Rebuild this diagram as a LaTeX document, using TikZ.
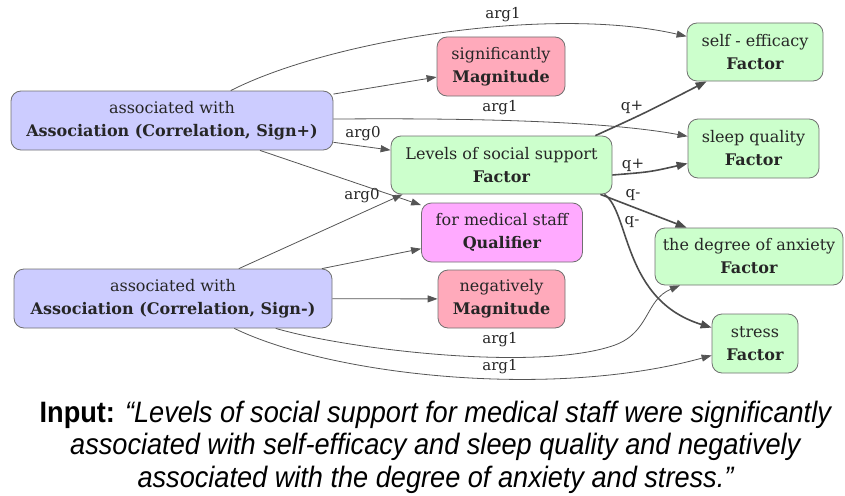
\documentclass[tikz,border=0pt]{standalone}
\usepackage{fontspec}
\setmainfont{DejaVu Serif}
\newfontfamily\capfont[FakeStretch=0.92]{Liberation Sans}
\usetikzlibrary{arrows.meta}
\definecolor{assocfill}{HTML}{CCCCFF}
\definecolor{magfill}{HTML}{FFAABB}
\definecolor{qualfill}{HTML}{FFAAFF}
\definecolor{factfill}{HTML}{CCFFCC}
\definecolor{edgegray}{HTML}{555555}
\definecolor{bordergray}{HTML}{707070}
\tikzset{
  box/.style={draw=bordergray, line width=0.8pt, rounded corners=10pt, align=center, inner sep=0pt,
    font=\fontsize{16}{23}\selectfont, text=black!85},
  assoc/.style={box, fill=assocfill},
  mag/.style={box, fill=magfill},
  qual/.style={box, fill=qualfill},
  fact/.style={box, fill=factfill},
  edge/.style={draw=edgegray, line width=0.8pt, -{Triangle[length=10pt,width=7pt]}},
  thick edge/.style={draw=edgegray!90!black, line width=1.6pt, -{Triangle[length=11pt,width=8pt]}},
  lbl/.style={font=\fontsize{15}{17}\selectfont, text=black!85, inner sep=0pt}
}
\begin{document}
\begin{tikzpicture}[x=1pt,y=-1pt]
\useasboundingbox (0,0) rectangle (845,495);
% nodes
\node[assoc, minimum width=322pt, minimum height=59pt] (ap) at (172,120.5)
  {associated with\\\textbf{Association (Correlation, Sign+)}};
\node[assoc, minimum width=318pt, minimum height=59pt] (am) at (173,298.5)
  {associated with\\\textbf{Association (Correlation, Sign-)}};
\node[mag, minimum width=128pt, minimum height=59pt] (sig) at (501,66.5)
  {significantly\\\textbf{Magnitude}};
\node[fact, minimum width=221pt, minimum height=58pt] (lv) at (501.5,165)
  {Levels of social support\\\textbf{Factor}};
\node[qual, minimum width=161pt, minimum height=59pt] (ql) at (502,232.5)
  {for medical staff\\\textbf{Qualifier}};
\node[mag, minimum width=127pt, minimum height=58pt] (neg) at (501.5,299)
  {negatively\\\textbf{Magnitude}};
\node[fact, minimum width=136pt, minimum height=58pt] (se) at (755,52)
  {self - efficacy\\\textbf{Factor}};
\node[fact, minimum width=131pt, minimum height=59pt] (sq) at (753.5,148.5)
  {sleep quality\\\textbf{Factor}};
\node[fact, minimum width=188pt, minimum height=57pt] (an) at (749,256.5)
  {the degree of anxiety\\\textbf{Factor}};
\node[fact, minimum width=86pt, minimum height=59pt] (st) at (755,343.5)
  {stress\\\textbf{Factor}};
% edges from Assoc+
\draw[edge] (ap) .. controls (330,40) and (550,5) .. (se);
\draw[edge] (ap) -- (sig);
\draw[edge] (ap) .. controls (450,118) and (600,120) .. (sq);
\draw[edge] (ap) -- (lv);
\draw[edge] (ap) -- (ql);
% edges from Assoc-
\draw[edge] (am) -- ([xshift=12pt]lv.south west);
\draw[edge] (am) -- (ql);
\draw[edge] (am) -- (neg);
\draw[edge] (am) .. controls (350,350) and (540,372) .. (615,345) .. controls (650,332) and (645,300) .. (an);
\draw[edge] (am) .. controls (330,375) and (550,400) .. (st);
% edges from Levels
\draw[thick edge] ([xshift=-17pt]lv.north east) .. controls (645,113) .. ([xshift=20pt]se.south west);
\draw[thick edge] ([yshift=-10pt]lv.east) .. controls (650,172) .. (sq);
\draw[thick edge] ([xshift=-12pt]lv.south east) -- ([xshift=32pt]an.north west);
\draw[thick edge] ([xshift=-8pt]lv.south east) .. controls (630,212) and (622,300) .. ([yshift=-14pt]st.north west);
% labels
\node[lbl] (l1) at (503,15) {arg1};
\node[lbl] (l2) at (500,108) {arg1};
\node[lbl] (l3) at (363,134) {arg0};
\node[lbl] (l4) at (362,196) {arg0};
\node[lbl] (l5) at (632,107) {q+};
\node[lbl] (l6) at (633,165) {q+};
\node[lbl] (l7) at (633,195) {q-};
\node[lbl] (l8) at (632,222) {q-};
\node[lbl] (l9) at (500,340) {arg1};
\node[lbl] (l10) at (500,367) {arg1};
% caption
\node[align=center, font=\capfont\fontsize{29.5}{32.5}\selectfont, inner sep=0pt] (cap) at (436,447)
  {\textbf{Input:} \textit{“Levels of social support for medical staff were significantly}\\
   \textit{associated with self-efficacy and sleep quality and negatively}\\
   \textit{associated with the degree of anxiety and stress.”}};
\end{tikzpicture}
\end{document}
